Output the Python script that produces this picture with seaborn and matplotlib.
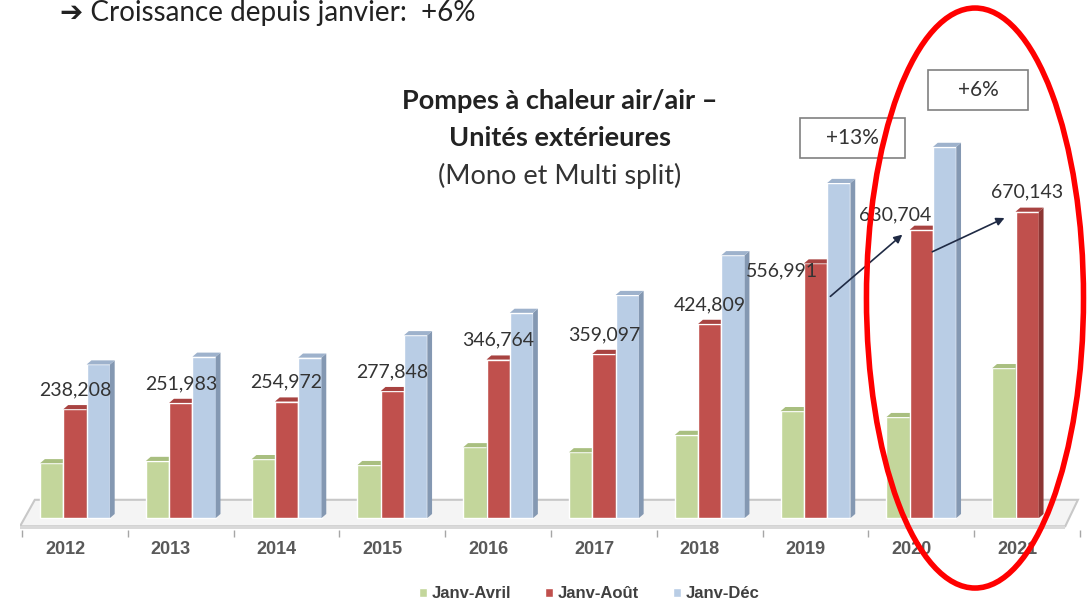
import numpy as np
import pandas as pd
import matplotlib.pyplot as plt
import seaborn as sns
from matplotlib.patches import Polygon, Rectangle, Ellipse
from matplotlib.transforms import ScaledTranslation

# values (units)
years = ["2012", "2013", "2014", "2015", "2016", "2017", "2018", "2019", "2020", "2021"]
janv_avril = [120000, 125000, 129000, 116000, 155000, 144000, 182000, 234000, 221000, 328000]
janv_aout = [238208, 251983, 254972, 277848, 346764, 359097, 424809, 556991, 630704, 670143]
janv_dec = [336000, 353000, 351000, 400000, 449000, 488000, 575000, 733000, 812000, np.nan]
series = ["Janv-Avril", "Janv-Août", "Janv-Déc"]

colors = ["#C3D69B", "#C0504D", "#B9CDE5"]
side_colors = ["#9CB273", "#8C3634", "#8498B2"]
top_colors = ["#A9BF80", "#A84341", "#9EB2CC"]

df = pd.DataFrame({
    "Année": years * 3,
    "Période": np.repeat(series, len(years)),
    "Unités": janv_avril + janv_aout + janv_dec,
})

sns.set_style("white")
plt.rcParams["font.family"] = ["Lato", "DejaVu Sans"]

fig = plt.figure(figsize=(10.89, 6.07), dpi=100)
ax = fig.add_axes([0.01837, 0.1269, 0.9734, 0.7727])

sns.barplot(data=df, x="Année", y="Unités", hue="Période", palette=colors,
            width=0.66, gap=0, saturation=1, errorbar=None, ax=ax)

# fake 3D: side and top faces from each drawn bar
dx, dy = 0.045, 9000
for i, cont in enumerate(ax.containers):
    for bar in cont:
        h = bar.get_height()
        if np.isnan(h):
            continue
        x, w = bar.get_x(), bar.get_width()
        bar.set_zorder(3 + i)
        ax.add_patch(Polygon([(x + w, 0), (x + w + dx, dy), (x + w + dx, h + dy), (x + w, h)],
                             closed=True, fc=side_colors[i], ec="none", zorder=3 + i))
        ax.add_patch(Polygon([(x, h), (x + dx, h + dy), (x + w + dx, h + dy), (x + w, h)],
                             closed=True, fc=top_colors[i], ec="none", zorder=3 + i))

# floor
ax.add_patch(Polygon([(-0.52, -18000), (9.36, -18000), (9.48, 40000), (-0.38, 40000)],
                     closed=True, fc="#F4F4F4", ec="#C8C8C8", lw=1.5, zorder=1))
ax.add_patch(Polygon([(-0.52, -18000), (9.36, -18000), (9.36, -24000), (-0.52, -24000)],
                     closed=True, fc="#D9D9D9", ec="none", zorder=1))

# value labels on Janv-Août
label_offsets = {7: (-24, -5), 8: (-19, 11)}
for j, v in enumerate(janv_aout):
    off = label_offsets.get(j, (0, 14))
    ax.annotate(f"{v:,}", xy=(j, v), xytext=off, textcoords="offset points",
                ha="center", va="center", fontsize=14, color="#333333", zorder=10)

# arrows
ax.annotate("", xy=(7.84, 624000), xytext=(7.12, 481000),
            arrowprops=dict(arrowstyle="-|>", color="#1F2A44", lw=1.2, mutation_scale=12), zorder=11)
ax.annotate("", xy=(8.81, 659000), xytext=(8.08, 580000),
            arrowprops=dict(arrowstyle="-|>", color="#1F2A44", lw=1.2, mutation_scale=12), zorder=11)

ax.set_xlim(-0.52, 9.5)
ax.set_ylim(-26000, 1000000)
ax.set_xlabel("")
ax.set_ylabel("")
ax.set_yticks([])
ax.set_xticks(np.arange(-0.5, 10, 1), minor=True)
ax.tick_params(axis="x", which="minor", length=5, color="#A6A6A6", bottom=True, width=1)
ax.tick_params(axis="x", which="major", length=0, pad=8)
for lbl in ax.get_xticklabels():
    lbl.set_fontfamily("Liberation Sans")
    lbl.set_fontweight("bold")
    lbl.set_fontsize(13)
    lbl.set_color("#595959")
    lbl.set_transform(lbl.get_transform() + ScaledTranslation(-10 / 100, 0, fig.dpi_scale_trans))
sns.despine(ax=ax, left=True, bottom=True)

sns.move_legend(ax, "center", bbox_to_anchor=(0.537, -0.136), ncol=3, frameon=False,
                title=None, handlelength=0.5, handleheight=0.5, handletextpad=0.3,
                columnspacing=2.0, prop={"family": "Liberation Sans", "weight": "bold", "size": 12})
for t in ax.get_legend().get_texts():
    t.set_color("#404040")

# titles and notes
fig.text(60 / 1089, 1 - 21 / 607, "➔ Croissance depuis janvier:  +6%", fontsize=20,
         color="#222222", ha="left", va="baseline")
fig.text(560 / 1089, 1 - 101 / 607, "Pompes à chaleur air/air –", fontsize=19.5,
         weight="bold", color="#222222", ha="center", va="center")
fig.text(560 / 1089, 1 - 138 / 607, "Unités extérieures", fontsize=19.5,
         weight="bold", color="#222222", ha="center", va="center")
fig.text(560 / 1089, 1 - 176 / 607, "(Mono et Multi split)", fontsize=19.5,
         color="#333333", ha="center", va="center")

fig.add_artist(Rectangle((0.7346, 0.7397), 0.0964, 0.0659, transform=fig.transFigure,
                         fc="white", ec="#808080", lw=1.2))
fig.text(0.7824, 0.7727, "+13%", fontsize=15, color="#333333", ha="center", va="center")
fig.add_artist(Rectangle((0.8522, 0.8188), 0.0918, 0.0659, transform=fig.transFigure,
                         fc="white", ec="#808080", lw=1.2))
fig.text(0.8981, 0.8517, "+6%", fontsize=15, color="#333333", ha="center", va="center")

fig.add_artist(Ellipse((0.8953, 0.509), 0.1993, 0.9555, transform=fig.transFigure,
                       fill=False, ec="#FF0000", lw=4, zorder=20))

fig.savefig("out.png", dpi=100)
